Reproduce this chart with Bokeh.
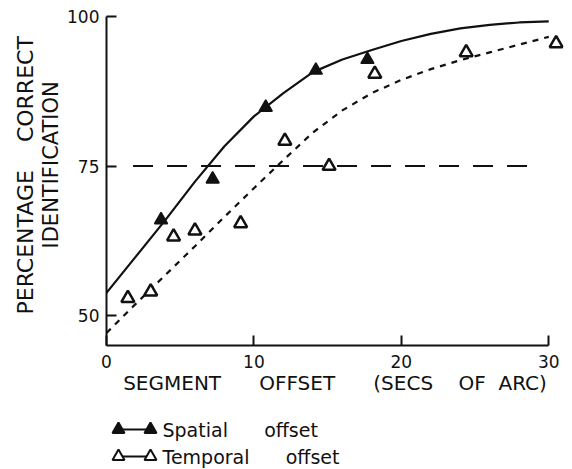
from bokeh.plotting import figure
from bokeh.models import Range1d, FixedTicker, Title
from bokeh.layouts import column
from bokeh.embed import file_html
from bokeh.resources import INLINE
from bokeh.core.properties import value

# ---- data ----
spatial_x = [3.7, 7.2, 10.8, 14.2, 17.7]
spatial_y = [66.0, 72.8, 84.8, 91.0, 92.8]

temporal_x = [1.45, 3.0, 4.55, 6.0, 9.1, 12.1, 15.1, 18.2, 24.4, 30.5]
temporal_y = [52.9, 54.0, 63.2, 64.2, 65.4, 79.2, 75.0, 90.4, 94.0, 95.5]

fit_x = [0, 2, 4, 6, 8, 10, 12, 14, 16, 18, 20, 22, 24, 26, 28, 30]
spatial_fit_y = [53.8, 59.9, 66.0, 72.4, 78.3, 83.3, 87.2, 90.7, 92.8, 94.4, 95.9, 97.1, 98.0, 98.6, 99.0, 99.2]
temporal_fit_y = [47.1, 52.0, 56.8, 61.6, 66.5, 71.3, 76.0, 80.6, 84.3, 87.2, 89.4, 91.2, 92.7, 94.0, 95.3, 96.6]

threshold = 75
threshold_x = [1.8, 28.8]

x_ticks = [0, 10, 20, 30]
y_ticks = [50, 75, 100]

NB = "\u00a0"
x_title = "SEGMENT" + NB * 6 + "OFFSET" + NB * 6 + "(SECS" + NB * 4 + "OF" + NB * 2 + "ARC)"
y_title_outer = "PERCENTAGE" + NB * 4 + "CORRECT"
y_title_inner = "IDENTIFICATION"
legend_labels = ["Spatial" + NB * 6 + "offset", "Temporal" + NB * 6 + "offset"]

FONT = "DejaVu Sans"
INK = "#111111"

W = 572
MAIN_H = 410
LEG_H = 59
BORDER_L, BORDER_R = 106, 9

p = figure(width=W, height=MAIN_H, output_backend="svg", toolbar_location=None,
           x_range=Range1d(0, 31), y_range=Range1d(45, 100.5),
           min_border_left=BORDER_L, min_border_right=BORDER_R,
           min_border_top=13, min_border_bottom=65)
p.outline_line_color = None
p.xgrid.visible = False
p.ygrid.visible = False
p.background_fill_color = "white"
p.border_fill_color = "white"

for ax in (p.xaxis[0], p.yaxis[0]):
    ax.axis_line_width = 2
    ax.axis_line_color = INK
    ax.major_tick_line_width = 2
    ax.major_tick_line_color = INK
    ax.major_tick_in = 10
    ax.major_tick_out = 0
    ax.minor_tick_line_color = None
    ax.major_label_text_font = FONT
    ax.major_label_text_font_size = "17px"
    ax.major_label_text_color = INK
    ax.axis_label_text_font = FONT
    ax.axis_label_text_font_style = "normal"
    ax.axis_label_text_color = INK

p.xaxis.ticker = FixedTicker(ticks=x_ticks)
p.yaxis.ticker = FixedTicker(ticks=y_ticks)
p.xaxis.bounds = (0, 30)
p.yaxis.bounds = (45, 100)
p.xaxis.major_label_standoff = 9
p.yaxis.major_label_standoff = 7
p.xaxis.axis_label = x_title
p.xaxis.axis_label_text_font_size = "20px"
p.xaxis.axis_label_standoff = 0

# y-axis title: two rotated lines, as side titles
for txt, off, so, fs in ((y_title_inner, 97, 3, "21px"), (y_title_outer, 31, -4, "22px")):
    p.add_layout(Title(text=txt, align="left", offset=off, standoff=so,
                       text_font=FONT, text_font_size=fs, text_font_style="normal",
                       text_color=INK), "left")

# threshold line
p.line(x=threshold_x, y=[threshold] * len(threshold_x), line_color=INK, line_width=2,
       line_dash="20 14")

# fitted curves
p.line(x=fit_x, y=spatial_fit_y, line_color=INK, line_width=2.2)
p.line(x=fit_x, y=temporal_fit_y, line_color=INK, line_width=2.2, line_dash="6 6")

# points
p.scatter(x=spatial_x, y=spatial_y, marker="triangle", size=13,
          fill_color=INK, line_color=INK, line_width=1.5)
p.scatter(x=temporal_x, y=temporal_y, marker="triangle", size=13,
          fill_color="white", line_color=INK, line_width=2.5)

# ---- legend panel (coordinates are page pixels) ----
lg = figure(width=W, height=LEG_H, output_backend="svg", toolbar_location=None,
            x_range=Range1d(BORDER_L, W - BORDER_R), y_range=Range1d(LEG_H, 0),
            min_border_left=BORDER_L, min_border_right=BORDER_R,
            min_border_top=0, min_border_bottom=0)
lg.axis.visible = False
lg.grid.visible = False
lg.outline_line_color = None
lg.border_fill_color = "white"
lg.background_fill_color = "white"

sym_left, sym_right, text_x = 118, 150, 162
rows = [19, 46]
fills = [INK, "white"]
for row, fill, lab in zip(rows, fills, legend_labels):
    lg.line(x=[sym_left, sym_right], y=[row, row], line_color=INK, line_width=2)
    lg.scatter(x=[sym_left, sym_right], y=[row, row], marker="triangle", size=12,
               fill_color=fill, line_color=INK, line_width=2)
    lg.text(x=[text_x], y=[row], text=[lab], text_font=value(FONT),
            text_font_size="19px", text_baseline="middle", text_align="left",
            text_color=INK)

layout = column(p, lg, spacing=0)
open("out.html", "w").write(file_html(layout, INLINE))
